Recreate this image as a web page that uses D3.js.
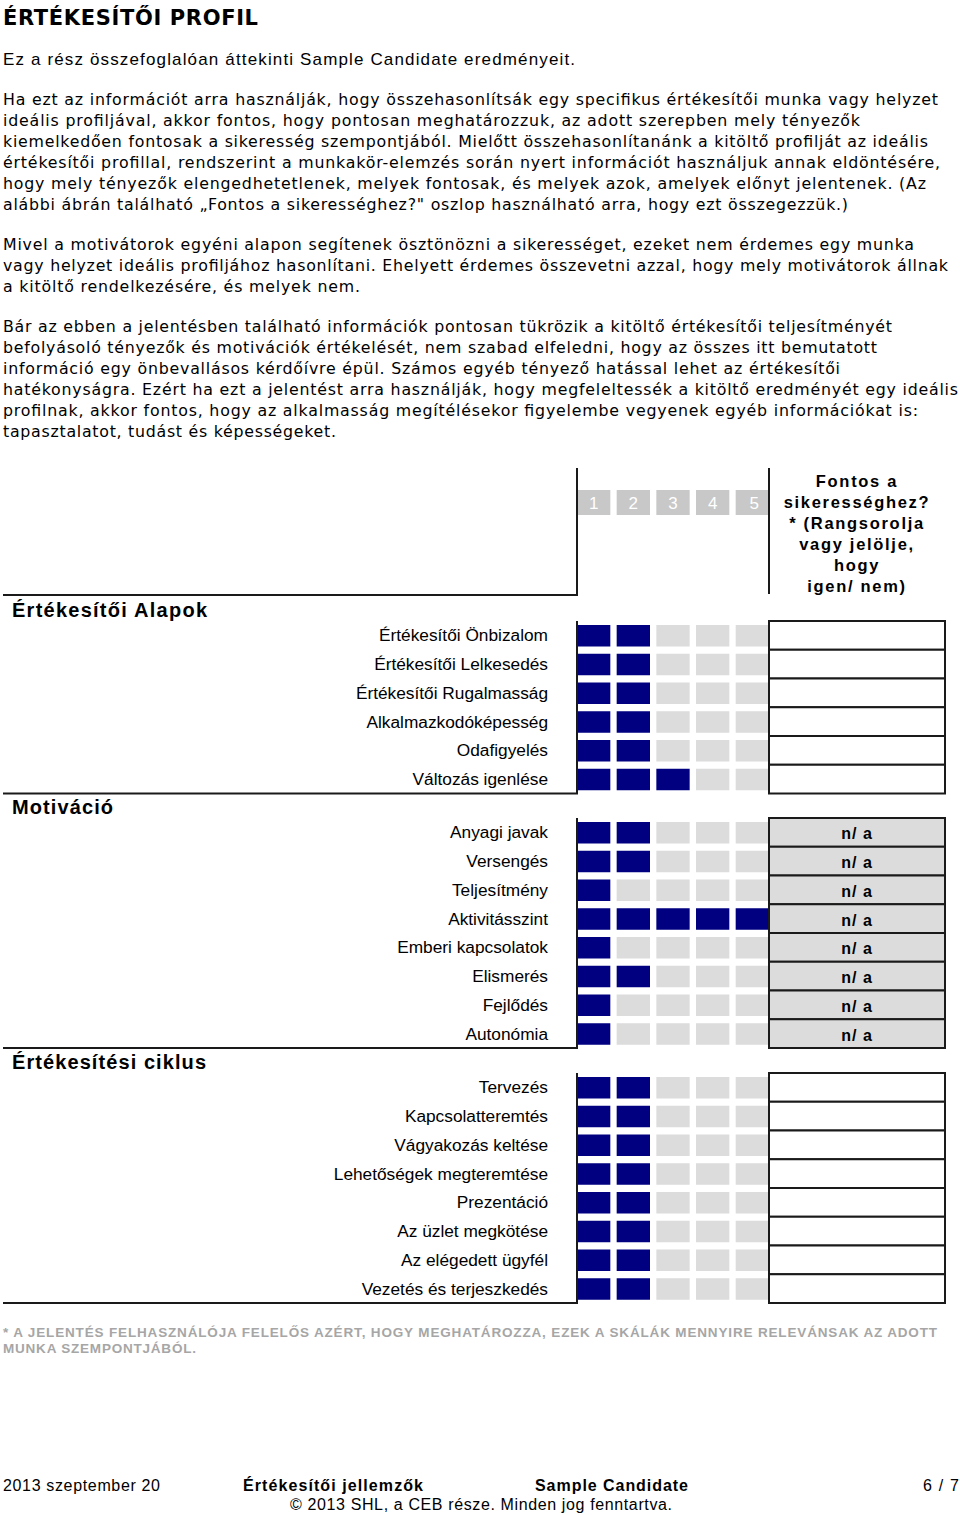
<!DOCTYPE html>
<html><head><meta charset="utf-8">
<script src="https://cdn.jsdelivr.net/npm/d3@7/dist/d3.min.js"></script>
<style>body{margin:0;background:#fff}svg{display:block}</style>
</head><body>
<script>
// ---- data ----
const scaleTicks = ["1","2","3","4","5"];
const basicsLabels = ["Értékesítői Önbizalom","Értékesítői Lelkesedés","Értékesítői Rugalmasság","Alkalmazkodóképesség","Odafigyelés","Változás igenlése"];
const basicsValues = [2,2,2,2,2,3];
const motivLabels = ["Anyagi javak","Versengés","Teljesítmény","Aktivitásszint","Emberi kapcsolatok","Elismerés","Fejlődés","Autonómia"];
const motivValues = [2,2,1,5,1,2,1,1];
const motivImportance = ["n/ a","n/ a","n/ a","n/ a","n/ a","n/ a","n/ a","n/ a"];
const cycleLabels = ["Tervezés","Kapcsolatteremtés","Vágyakozás keltése","Lehetőségek megteremtése","Prezentáció","Az üzlet megkötése","Az elégedett ügyfél","Vezetés és terjeszkedés"];
const cycleValues = [2,2,2,2,2,2,2,2];
const sectionTitles = ["Értékesítői Alapok","Motiváció","Értékesítési ciklus"];
const headerLines = ["Fontos a","sikerességhez?","* (Rangsorolja","vagy jelölje,","hogy","igen/ nem)"];

const W = 960, H = 1515;
const svg = d3.select("body").append("svg").attr("width", W).attr("height", H);
const SANS = "'Liberation Sans', Arial, sans-serif";
const VER = "'DejaVu Sans', Verdana, sans-serif";

function line(x, y, txt, opts) {
  const t = svg.append("text").attr("x", x).attr("y", y).text(txt)
    .attr("font-family", opts.font || VER).attr("font-size", opts.size || 15)
    .attr("fill", opts.fill || "#000");
  if (opts.weight) t.attr("font-weight", opts.weight);
  if (opts.len) t.attr("textLength", opts.len).attr("lengthAdjust", "spacing");
  if (opts.anchor) t.attr("text-anchor", opts.anchor);
  if (opts.ls) t.attr("letter-spacing", opts.ls);
  return t;
}

// ---- intro text ----
line(3, 25, "ÉRTÉKESÍTŐI PROFIL", {size: 21, weight: "bold", len: 255});
line(3, 65, "Ez a rész összefoglalóan áttekinti Sample Candidate eredményeit.", {font: SANS, size: 17, len: 572});

const para = [
  ["Ha ezt az információt arra használják, hogy összehasonlítsák egy specifikus értékesítői munka vagy helyzet", 105, 935],
  ["ideális profiljával, akkor fontos, hogy pontosan meghatározzuk, az adott szerepben mely tényezők", 126, 857],
  ["kiemelkedően fontosak a sikeresség szempontjából. Mielőtt összehasonlítanánk a kitöltő profilját az ideális", 147, 925],
  ["értékesítői profillal, rendszerint a munkakör-elemzés során nyert információt használjuk annak eldöntésére,", 168, 937],
  ["hogy mely tényezők elengedhetetlenek, melyek fontosak, és melyek azok, amelyek előnyt jelentenek. (Az", 189, 923],
  ["alábbi ábrán található „Fontos a sikerességhez?\" oszlop használható arra, hogy ezt összegezzük.)", 210, 845],
  ["Mivel a motivátorok egyéni alapon segítenek ösztönözni a sikerességet, ezeket nem érdemes egy munka", 250, 911],
  ["vagy helyzet ideális profiljához hasonlítani. Ehelyett érdemes összevetni azzal, hogy mely motivátorok állnak", 271, 945],
  ["a kitöltő rendelkezésére, és melyek nem.", 292, 357],
  ["Bár az ebben a jelentésben található információk pontosan tükrözik a kitöltő értékesítői teljesítményét", 332, 889],
  ["befolyásoló tényezők és motivációk értékelését, nem szabad elfeledni, hogy az összes itt bemutatott", 353, 874],
  ["információ egy önbevallásos kérdőívre épül. Számos egyéb tényező hatással lehet az értékesítői", 374, 837],
  ["hatékonyságra. Ezért ha ezt a jelentést arra használják, hogy megfeleltessék a kitöltő eredményét egy ideális", 395, 955],
  ["profilnak, akkor fontos, hogy az alkalmasság megítélésekor figyelembe vegyenek egyéb információkat is:", 416, 915],
  ["tapasztalatot, tudást és képességeket.", 437, 333]
];
para.forEach(p => line(3, p[1], p[0], {size: 15.8, len: p[2]}));

// ---- scales ----
const x = d3.scaleBand().domain(scaleTicks).range([577, 769]).paddingInner(0.16);
const boxX0 = 769, boxX1 = 945;
const pitch = 28.75;
const NAVY = "#000080", LIGHT = "#dcdcdc", HEAD = "#c8c8c8", STROKE = "#1a1a1a";

// header
svg.append("g").selectAll("rect").data(scaleTicks).join("rect")
  .attr("x", d => x(d)).attr("y", 490).attr("width", x.bandwidth()).attr("height", 25).attr("fill", HEAD);
svg.append("g").selectAll("text").data(scaleTicks).join("text")
  .attr("x", d => x(d) + x.bandwidth() / 2 + (d === "5" ? 2 : 0)).attr("y", 509)
  .attr("text-anchor", "middle").attr("font-family", SANS).attr("font-size", 17).attr("fill", "#fff").text(d => d);
svg.append("path").attr("d", "M3,595H577V468").attr("fill", "none").attr("stroke", STROKE).attr("stroke-width", 2);
svg.append("path").attr("d", "M769,468V594").attr("fill", "none").attr("stroke", STROKE).attr("stroke-width", 2);
headerLines.forEach((t, i) => line(857, 487 + i * 21, t, {font: SANS, size: 16.5, weight: "bold", anchor: "middle", ls: 1.7}));

// sections
const sections = [
  {title: sectionTitles[0], titleY: 617, titleLen: 195, labels: basicsLabels, values: basicsValues, top: 621, imp: null},
  {title: sectionTitles[1], titleY: 814, titleLen: 101, labels: motivLabels, values: motivValues, top: 818, imp: motivImportance},
  {title: sectionTitles[2], titleY: 1069, titleLen: 194, labels: cycleLabels, values: cycleValues, top: 1073, imp: null}
];

sections.forEach(s => {
  const n = s.labels.length;
  const y = d3.scaleBand().domain(d3.range(n)).range([s.top, s.top + n * pitch]).padding(0);
  const bottom = s.top + n * pitch;
  line(12, s.titleY, s.title, {font: SANS, size: 20, weight: "bold", len: s.titleLen});
  const g = svg.append("g");
  // cells
  s.values.forEach((v, i) => {
    g.selectAll(null).data(scaleTicks).join("rect")
      .attr("x", d => x(d)).attr("y", y(i) + 4).attr("width", x.bandwidth()).attr("height", 21.5)
      .attr("fill", d => (+d <= v ? NAVY : LIGHT));
  });
  // labels
  g.selectAll("text.lab").data(s.labels).join("text").attr("class", "lab")
    .attr("x", 548).attr("y", (d, i) => y(i) + y.bandwidth() / 2 + 6)
    .attr("text-anchor", "end").attr("font-family", SANS).attr("font-size", 17.3).text(d => d);
  // right boxes
  g.selectAll("rect.box").data(s.labels).join("rect").attr("class", "box")
    .attr("x", boxX0).attr("y", (d, i) => y(i)).attr("width", boxX1 - boxX0).attr("height", y.bandwidth())
    .attr("fill", s.imp ? LIGHT : "#fff").attr("stroke", STROKE).attr("stroke-width", 2);
  if (s.imp) {
    g.selectAll("text.imp").data(s.imp).join("text").attr("class", "imp")
      .attr("x", 857).attr("y", (d, i) => y(i) + y.bandwidth() / 2 + 7)
      .attr("text-anchor", "middle").attr("font-family", SANS).attr("font-size", 16).attr("font-weight", "bold")
      .attr("letter-spacing", 1).text(d => d);
  }
  // frame line
  svg.append("path").attr("d", `M577,${s.top}V${bottom}H3`).attr("fill", "none").attr("stroke", STROKE).attr("stroke-width", 2);
});

// footnote
line(3, 1337, "* A JELENTÉS FELHASZNÁLÓJA FELELŐS AZÉRT, HOGY MEGHATÁROZZA, EZEK A SKÁLÁK MENNYIRE RELEVÁNSAK AZ ADOTT",
  {font: SANS, size: 13.5, weight: "bold", fill: "#a6a6a6", len: 934});
line(3, 1353, "MUNKA SZEMPONTJÁBÓL.", {font: SANS, size: 13.5, weight: "bold", fill: "#a6a6a6", len: 193});

// footer
line(3, 1491, "2013 szeptember 20", {font: SANS, size: 16, len: 157});
line(243, 1491, "Értékesítői jellemzők", {font: SANS, size: 16, weight: "bold", len: 180});
line(535, 1491, "Sample Candidate", {font: SANS, size: 16, weight: "bold", len: 153});
line(923, 1491, "6 / 7", {font: SANS, size: 16, len: 36});
line(290, 1510, "© 2013 SHL, a CEB része. Minden jog fenntartva.", {font: SANS, size: 16, len: 382});
</script>
</body></html>
